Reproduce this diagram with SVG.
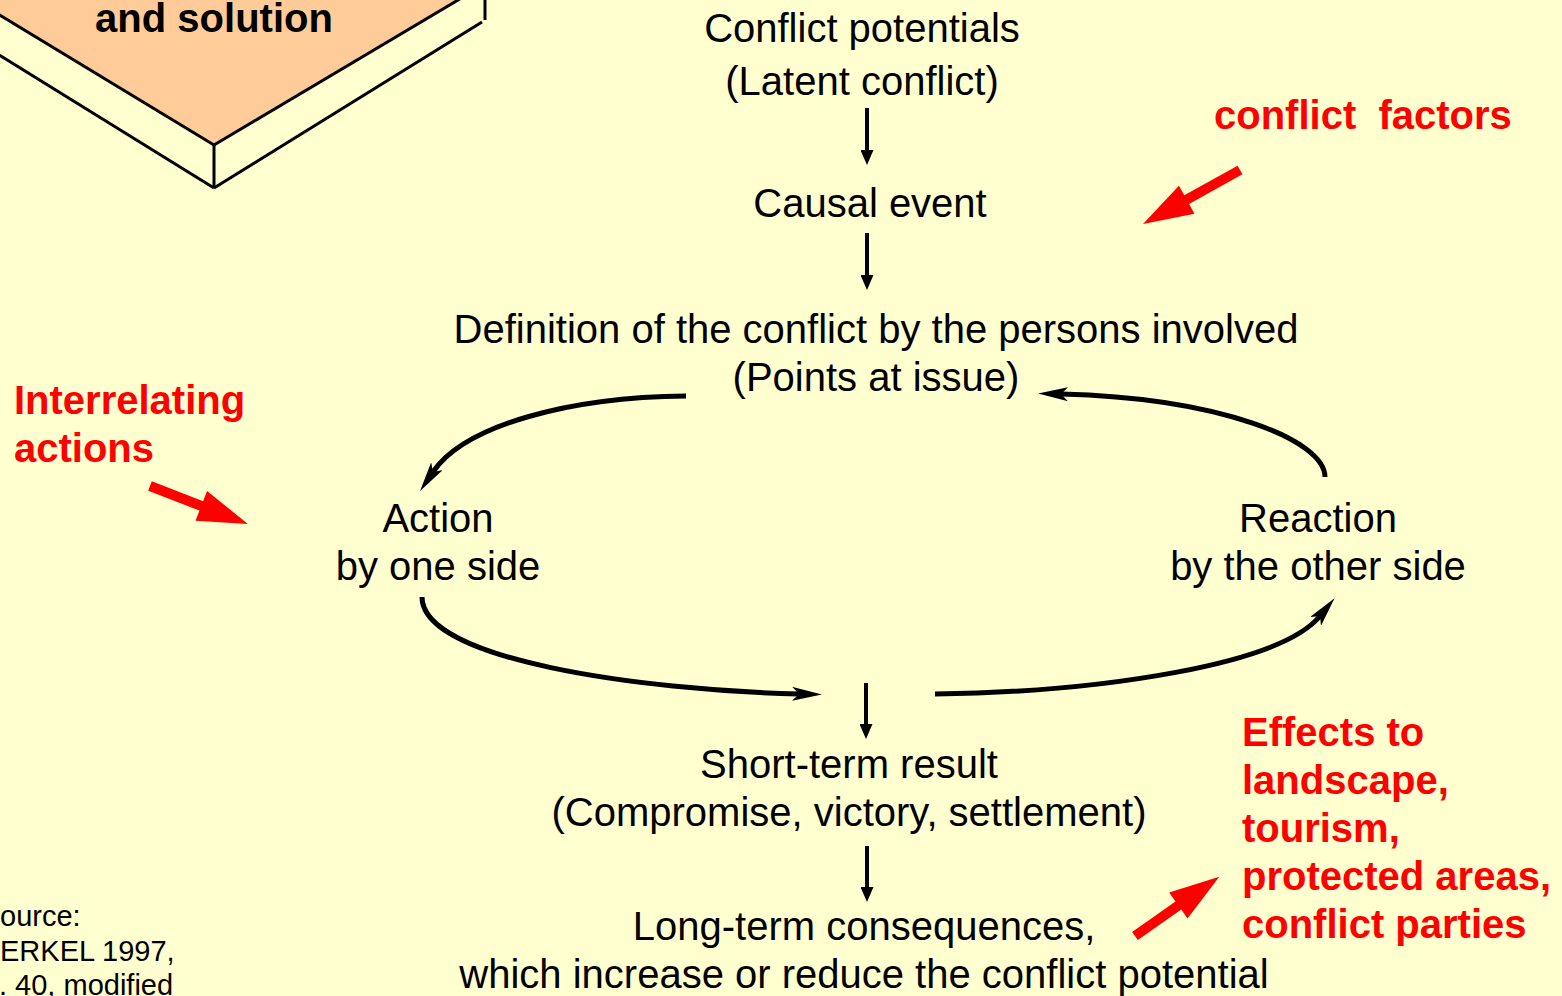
<svg xmlns="http://www.w3.org/2000/svg" width="1562" height="996" viewBox="0 0 1562 996">
<style>
.t{font-family:"Liberation Sans",Arial,sans-serif;font-size:40px;fill:#000;text-anchor:middle}
.r{font-family:"Liberation Sans",Arial,sans-serif;font-size:40px;font-weight:bold;fill:#FF0000;white-space:pre}
.src{font-family:"Liberation Sans",Arial,sans-serif;font-size:29px;fill:#000}
.edge{stroke:#000;stroke-width:3;fill:none}
.v{stroke:#000;stroke-width:4;fill:none}
.c{stroke:#000;stroke-width:5;fill:none}
.ra{fill:#FF0000}
</style>
<defs>
<marker id="vh" markerUnits="userSpaceOnUse" viewBox="0 0 15 13" markerWidth="15" markerHeight="13" refX="3" refY="6.5" orient="auto">
<path d="M0,0 L15,6.5 L0,13 z" fill="#000"/>
</marker>
<marker id="ch" markerUnits="userSpaceOnUse" viewBox="0 0 30 14" markerWidth="30" markerHeight="14" refX="7" refY="7" orient="auto">
<path d="M0,0 L30,7 L0,14 L7,7 z" fill="#000"/>
</marker>
</defs>
<rect x="0" y="0" width="1562" height="996" fill="#FFFFD0"/>

<g id="slab">
<polygon points="-30,-3 214,145 485,-16 485,-100 -30,-100" fill="#FFCC99"/>
<line class="edge" x1="-30" y1="-3" x2="214" y2="145"/>
<line class="edge" x1="214" y1="145" x2="485" y2="-16"/>
<line class="edge" x1="214" y1="145" x2="214" y2="188"/>
<line class="edge" x1="-30" y1="37" x2="214" y2="188"/>
<line class="edge" x1="214" y1="188" x2="482" y2="22"/>
<line class="edge" x1="485" y1="-16" x2="485" y2="20"/>
<text class="t" x="214" y="32" style="font-weight:bold">and solution</text>
</g>

<g id="n-potentials">
<text class="t" x="862" y="42">Conflict potentials</text>
<text class="t" x="862" y="95">(Latent conflict)</text>
</g>
<g id="n-causal">
<text class="t" x="870" y="217">Causal event</text>
</g>
<g id="n-definition">
<text class="t" x="876" y="343">Definition of the conflict by the persons involved</text>
<text class="t" x="876" y="391">(Points at issue)</text>
</g>
<g id="n-action">
<text class="t" x="438" y="532">Action</text>
<text class="t" x="438" y="580">by one side</text>
</g>
<g id="n-reaction">
<text class="t" x="1318" y="532">Reaction</text>
<text class="t" x="1318" y="580">by the other side</text>
</g>
<g id="n-short">
<text class="t" x="849" y="778">Short-term result</text>
<text class="t" x="849" y="826">(Compromise, victory, settlement)</text>
</g>
<g id="n-long">
<text class="t" x="864" y="940">Long-term consequences,</text>
<text class="t" x="864" y="988">which increase or reduce the conflict potential</text>
</g>

<g id="n-factors">
<text class="r" x="1214" y="129">conflict  factors</text>
<polygon class="ra" transform="translate(1240,170) rotate(150.9)" points="0,-5 61,-5 61,-16 111,0 61,16 61,5 0,5"/>
</g>
<g id="n-interrelating">
<text class="r" x="14" y="414">Interrelating</text>
<text class="r" x="14" y="462">actions</text>
<polygon class="ra" transform="translate(150,486) rotate(21.2)" points="0,-5 55,-5 55,-16 105,0 55,16 55,5 0,5"/>
</g>
<g id="n-effects">
<text class="r" x="1242" y="746">Effects to</text>
<text class="r" x="1242" y="794">landscape,</text>
<text class="r" x="1242" y="842">tourism,</text>
<text class="r" x="1242" y="890">protected areas,</text>
<text class="r" x="1242" y="938">conflict parties</text>
<polygon class="ra" transform="translate(1135,936) rotate(-35.1)" points="0,-5 53,-5 53,-16 103,0 53,16 53,5 0,5"/>
</g>

<g id="n-source">
<text class="src" x="0" y="926">ource:</text>
<text class="src" x="0" y="961">ERKEL 1997,</text>
<text class="src" x="-1" y="995">. 40, modified</text>
</g>

<g id="connectors">
<line class="v" x1="867" y1="108" x2="867" y2="153" marker-end="url(#vh)"/>
<line class="v" x1="867" y1="233" x2="867" y2="278" marker-end="url(#vh)"/>
<line class="v" x1="866" y1="683" x2="866" y2="727" marker-end="url(#vh)"/>
<line class="v" x1="867" y1="846" x2="867" y2="890" marker-end="url(#vh)"/>
<path class="c" d="M686,396 C570,397 465,425 433,472" marker-end="url(#ch)"/>
<path class="c" d="M1325,477 C1325,440 1220,398 1061,394" marker-end="url(#ch)"/>
<path class="c" d="M422,597 C422,660 640,690 799,694" marker-end="url(#ch)"/>
<path class="c" d="M935,694 C1100,692 1280,665 1320,616" marker-end="url(#ch)"/>
</g>
</svg>
